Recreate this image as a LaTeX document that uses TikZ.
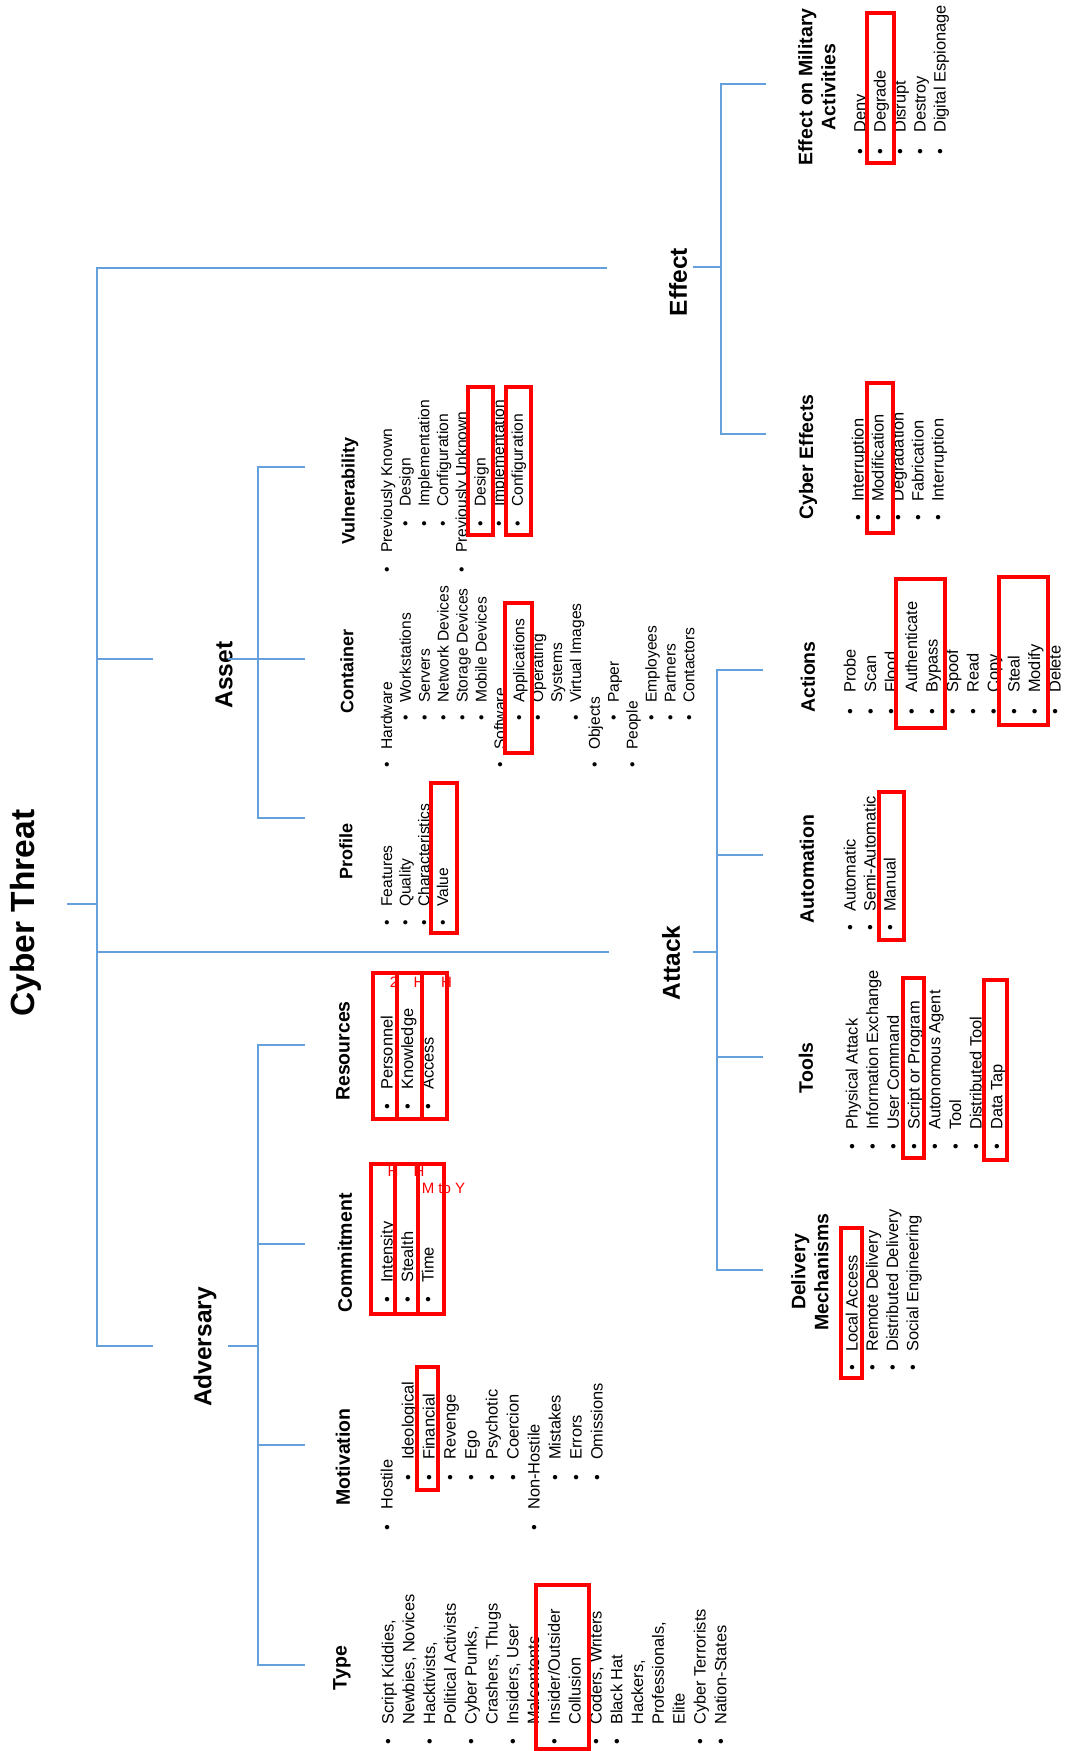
\documentclass[tikz,border=0pt]{standalone}
\usepackage{fontspec}
\setmainfont{Liberation Sans}
\definecolor{treeblue}{RGB}{100,160,220}
% one column of bullet items: name, bullet y, text y, first baseline x, step, indent, entries
\newcommand{\itemcol}[7]{%
  \foreach \lv/\bu/\txt [count=\k from 0] in {#7} {
    \node[bul] (#1-b\k) at ({#4+\k*#5}, {-#2+(\lv-1)*#6}) {\bu};
    \node[itm] (#1-\k) at ({#4+\k*#5}, {-#3+(\lv-1)*#6}) {\txt};
  }}
\tikzset{
  itmsize/.style={font=\fontsize{16.4}{20}\selectfont},
  headsize/.style={font=\bfseries\fontsize{19.5}{23}\selectfont},
  itm/.style={itmsize, rotate=90, anchor=base west, inner sep=0pt},
  bul/.style={itmsize, rotate=90, anchor=base, inner sep=0pt},
  head/.style={headsize, rotate=90, align=center, inner sep=0pt},
  branch/.style={font=\bfseries\fontsize{24.5}{28}\selectfont, rotate=90, inner sep=0pt},
  tree/.style={draw=treeblue, line width=1.4pt},
  hl/.style={draw=red, line width=3.5pt},
  note/.style={text=red, font=\fontsize{15}{17}\selectfont, inner sep=0pt}
}
\begin{document}
\begin{tikzpicture}[x=1pt, y=1pt]
  \useasboundingbox (0,0) rectangle (1067,-1751);
  \node[font=\bfseries\fontsize{33.5}{40}\selectfont, rotate=90, inner sep=0pt] (cyber) at (25.5,-913) {Cyber Threat};

  % first level
  \node[branch] (adversary) at (205,-1347) {Adversary};
  \node[branch] (asset) at (224,-675) {Asset};
  \node[branch] (attack) at (671,-963) {Attack};
  \node[branch] (effect) at (678,-282) {Effect};

  % adversary
  \node[head] (type) at (342,-1668) {Type};
  \node[head] (motivation) at (343,-1457) {Motivation};
  \node[head] (commitment) at (345,-1253) {Commitment};
  \node[head] (resources) at (343,-1051) {Resources};
  \itemcol{typ}{1742}{1725}{393.5}{20.8}{50}{1/\textbullet/{Script Kiddies,}, 1//{Newbies, Novices},
    1/\textbullet/{Hacktivists,}, 1//{Political Activists}, 1/\textbullet/{Cyber Punks,},
    1//{Crashers, Thugs}, 1/\textbullet/{Insiders, User}, 1//{Malcontents},
    1/\textbullet/{Insider/Outsider}, 1//{Collusion}, 1/\textbullet/{Coders, Writers},
    1/\textbullet/{Black Hat}, 1//{Hackers,}, 1//{Professionals,}, 1//{Elite},
    1/\textbullet/{Cyber Terrorists}, 1/\textbullet/{Nation-States}}
  \itemcol{mot}{1528}{1510}{392.5}{21}{50}{1/\textbullet/{Hostile}, 2/\textbullet/{Ideological},
    2/\textbullet/{Financial}, 2/\textbullet/{Revenge}, 2/\textbullet/{Ego}, 2/\textbullet/{Psychotic},
    2/\textbullet/{Coercion}, 1/\textbullet/{Non-Hostile}, 2/\textbullet/{Mistakes},
    2/\textbullet/{Errors}, 2/\textbullet/{Omissions}}
  \itemcol{com}{1300}{1283}{392.5}{20.5}{50}{1/\textbullet/{Intensity}, 1/\textbullet/{Stealth}, 1/\textbullet/{Time}}
  \itemcol{res}{1107}{1090}{392.5}{20.5}{50}{1/\textbullet/{Personnel}, 1/\textbullet/{Knowledge}, 1/\textbullet/{Access}}

  % asset
  \begin{scope}[itmsize/.style={font=\fontsize{15.6}{19}\selectfont},
      headsize/.style={font=\bfseries\fontsize{18}{21}\selectfont}]
    \node[head] (profile) at (346,-851) {Profile};
    \node[head] (container) at (347,-671) {Container};
    \node[head] (vulnerability) at (350,-491) {Vulnerability};
    \itemcol{pro}{923}{907}{392}{18.7}{47}{1/\textbullet/{Features}, 1/\textbullet/{Quality},
      1/\textbullet/{Characteristics}, 1/\textbullet/{Value}}
    \itemcol{con}{765}{750}{392}{18.9}{47}{1/\textbullet/{Hardware}, 2/\textbullet/{Workstations},
      2/\textbullet/{Servers}, 2/\textbullet/{Network Devices}, 2/\textbullet/{Storage Devices},
      2/\textbullet/{Mobile Devices}, 1/\textbullet/{Software}, 2/\textbullet/{Applications},
      2/\textbullet/{Operating}, 2//{Systems}, 2/\textbullet/{Virtual Images}, 1/\textbullet/{Objects},
      2/\textbullet/{Paper}, 1/\textbullet/{People}, 2/\textbullet/{Employees}, 2/\textbullet/{Partners},
      2/\textbullet/{Contactors}}
    \itemcol{vul}{570}{553}{392}{18.7}{46}{1/\textbullet/{Previously Known}, 2/\textbullet/{Design},
      2/\textbullet/{Implementation}, 2/\textbullet/{Configuration}, 1/\textbullet/{Previously Unknown},
      2/\textbullet/{Design}, 2/\textbullet/{Implementation}, 2/\textbullet/{Configuration}}
  \end{scope}

  % attack
  \node[head] (delivery) at (810,-1272) {Delivery\\Mechanisms};
  \node[head] (tools) at (806,-1068) {Tools};
  \node[head] (automation) at (807,-869) {Automation};
  \node[head] (actions) at (808,-677) {Actions};
  \itemcol{del}{1368}{1352}{857.5}{20.3}{50}{1/\textbullet/{Local Access}, 1/\textbullet/{Remote Delivery},
    1/\textbullet/{Distributed Delivery}, 1/\textbullet/{Social Engineering}}
  \itemcol{tol}{1147}{1130}{857.5}{20.7}{50}{1/\textbullet/{Physical Attack}, 1/\textbullet/{Information Exchange},
    1/\textbullet/{User Command}, 1/\textbullet/{Script or Program}, 1/\textbullet/{Autonomous Agent},
    1/\textbullet/{Tool}, 1/\textbullet/{Distributed Tool}, 1/\textbullet/{Data Tap}}
  \itemcol{aut}{928}{912}{855.5}{20}{50}{1/\textbullet/{Automatic}, 1/\textbullet/{Semi-Automatic}, 1/\textbullet/{Manual}}
  \itemcol{act}{712}{693}{855.5}{20.5}{50}{1/\textbullet/{Probe}, 1/\textbullet/{Scan}, 1/\textbullet/{Flood},
    1/\textbullet/{Authenticate}, 1/\textbullet/{Bypass}, 1/\textbullet/{Spoof}, 1/\textbullet/{Read},
    1/\textbullet/{Copy}, 1/\textbullet/{Steal}, 1/\textbullet/{Modify}, 1/\textbullet/{Delete}}

  % effect
  \node[head] (cybereff) at (808,-457) {Cyber Effects};
  \node[head] (military) at (817,-87) {Effect on Military\\Activities};
  \itemcol{cyb}{518}{502}{863.5}{20}{50}{1/\textbullet/{Interruption}, 1/\textbullet/{Modification},
    1/\textbullet/{Degradation}, 1/\textbullet/{Fabrication}, 1/\textbullet/{Interruption}}
  \itemcol{mil}{152}{133}{865.5}{20}{50}{1/\textbullet/{Deny}, 1/\textbullet/{Degrade}, 1/\textbullet/{Disrupt},
    1/\textbullet/{Destroy}, 1/\textbullet/{Digital Espionage}}

  % tree lines
  \coordinate (root) at (67,-904);
  \coordinate (trunk-bot) at (97,-1346);
  \coordinate (eff-in) at (607,-268);
  \coordinate (ast-in) at (153,-659);
  \coordinate (atk-in) at (609,-952);
  \coordinate (adv-in) at (153,-1346);
  \draw[tree] (eff-in) -| (trunk-bot) -- (adv-in);
  \draw[tree] (root) -- (root -| trunk-bot);
  \draw[tree] (ast-in) -- (ast-in -| trunk-bot);
  \draw[tree] (atk-in) -- (atk-in -| trunk-bot);

  \coordinate (eff-out) at (693,-267);
  \coordinate (eff-bot) at (721,-434);
  \coordinate (mil-in) at (766,-84);
  \coordinate (cyb-in) at (766,-434);
  \draw[tree] (mil-in) -| (eff-bot) -- (cyb-in);
  \draw[tree] (eff-out) -- (eff-out -| eff-bot);

  \coordinate (ast-out) at (228,-659);
  \coordinate (ast-bot) at (258,-818);
  \coordinate (vul-in) at (305,-467);
  \coordinate (con-in) at (305,-659);
  \coordinate (pro-in) at (305,-818);
  \draw[tree] (vul-in) -| (ast-bot) -- (pro-in);
  \draw[tree] (ast-out) -- (con-in);

  \coordinate (atk-out) at (693,-952);
  \coordinate (atk-bot) at (717,-1270);
  \coordinate (act-in) at (763,-670);
  \coordinate (aut-in) at (763,-855);
  \coordinate (tol-in) at (763,-1057);
  \coordinate (del-in) at (763,-1270);
  \draw[tree] (act-in) -| (atk-bot) -- (del-in);
  \draw[tree] (aut-in) -- (aut-in -| atk-bot);
  \draw[tree] (tol-in) -- (tol-in -| atk-bot);
  \draw[tree] (atk-out) -- (atk-out -| atk-bot);

  \coordinate (adv-out) at (228,-1346);
  \coordinate (adv-top) at (258,-1045);
  \coordinate (res-in) at (305,-1045);
  \coordinate (com-in) at (305,-1244);
  \coordinate (mot-in) at (305,-1445);
  \coordinate (typ-in) at (305,-1665);
  \draw[tree] (res-in) -- (adv-top) |- (typ-in);
  \draw[tree] (com-in) -- (com-in -| adv-top);
  \draw[tree] (mot-in) -- (mot-in -| adv-top);
  \draw[tree] (adv-out) -- (adv-out -| adv-top);

  % red notes
  \foreach \x/\y/\s [count=\k] in {393/1171/H, 419/1171/H, 443.5/1188/{M to Y},
      394/982/2, 419/982/H, 446.5/982/H}
    \node[note] (note-\k) at (\x,-\y) {\s};

  % highlights
  \foreach \xa/\ya/\xb/\yb in {536/1585/589/1749, 417/1367/438/1490,
      371/1164/395/1314, 395/1164/418/1314, 418/1164/444/1314,
      373/973/397/1119, 397/973/422/1119, 422/973/447/1119,
      431/783/457/933, 505/603/532/753, 468/387/493/535, 506/387/531/535,
      903/978/924/1158, 984/980/1007/1160, 841/1228/862/1378,
      896/579/945/728, 999/577/1048/725, 879/792/904/940,
      867/383/893/533, 867/13/894/163}
    \draw[hl] (\xa,-\ya) rectangle (\xb,-\yb);
\end{tikzpicture}
\end{document}
